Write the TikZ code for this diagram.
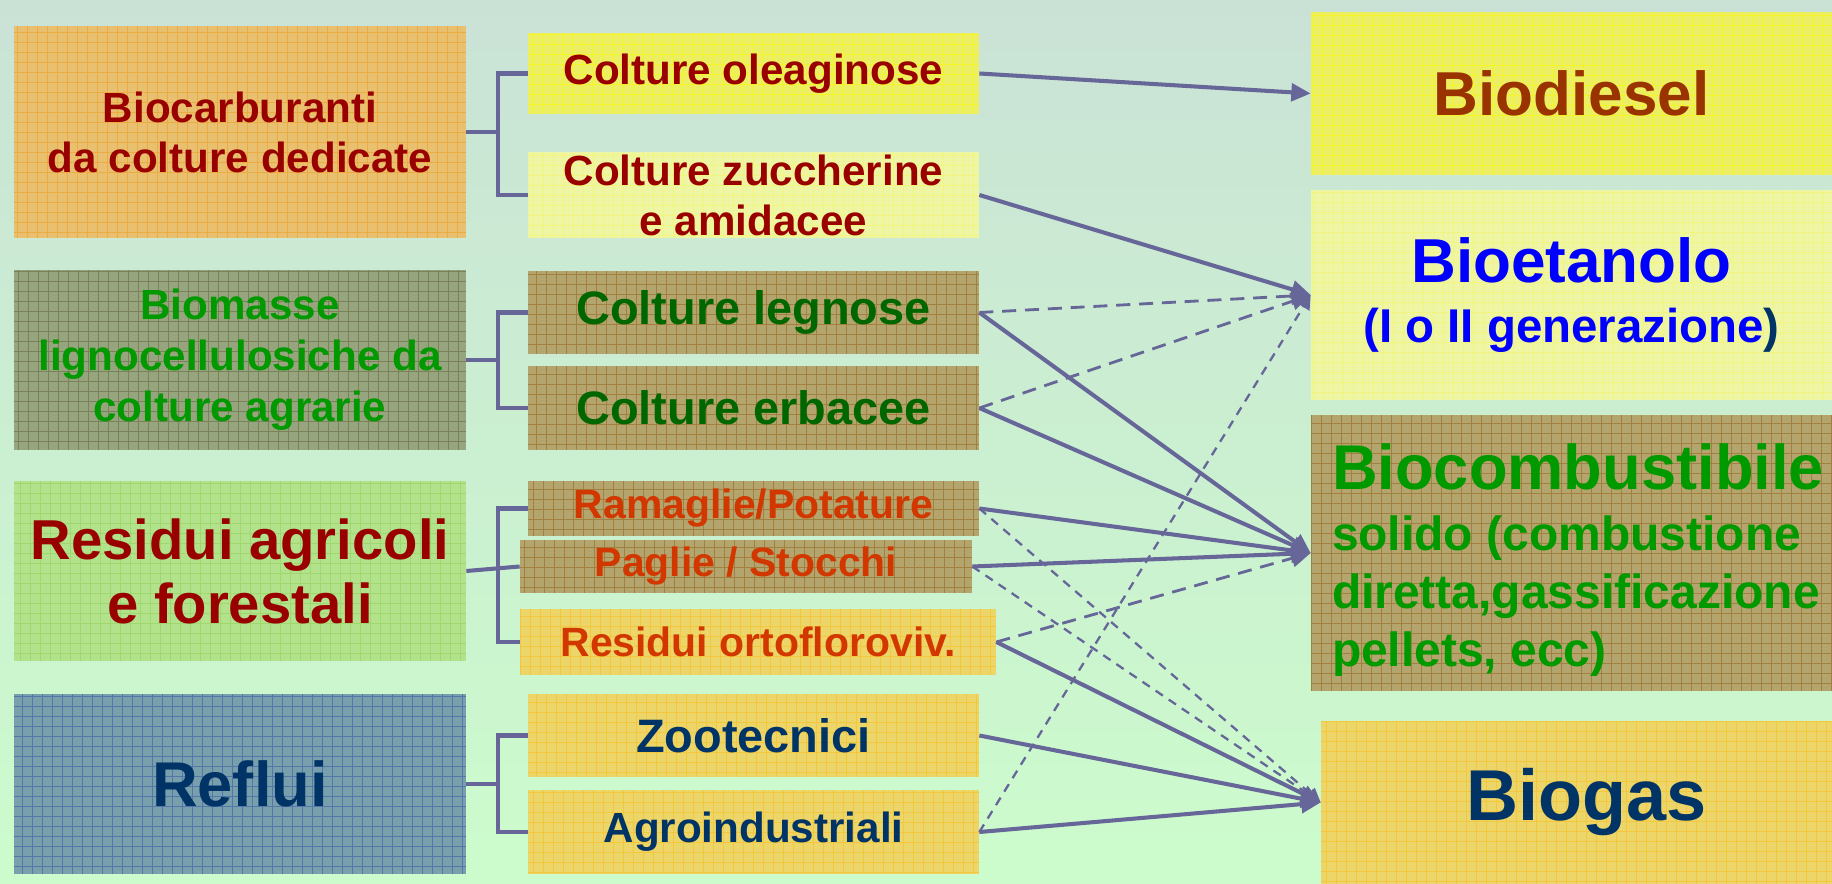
\documentclass[tikz,border=0pt]{standalone}
\usepackage{fontspec}
\setmainfont{Liberation Sans}
\usetikzlibrary{arrows.meta}

% background and connectors
\definecolor{bgtop}{RGB}{202,226,214}
\definecolor{bgbot}{RGB}{204,252,204}
\definecolor{linkcol}{RGB}{102,102,153}
% text colours
\definecolor{darkred}{RGB}{153,0,0}
\definecolor{leafgreen}{RGB}{0,153,0}
\definecolor{woodgreen}{RGB}{0,102,0}
\definecolor{rust}{RGB}{210,55,0}
\definecolor{navy}{RGB}{0,51,102}
\definecolor{brownred}{RGB}{153,51,0}
\definecolor{pureblue}{RGB}{0,0,255}
% box fills and grid lines
\definecolor{orangebox}{RGB}{232,192,112}
\definecolor{orangegrid}{RGB}{240,160,40}
\definecolor{greybox}{RGB}{150,165,125}
\definecolor{greygrid}{RGB}{105,105,65}
\definecolor{limebox}{RGB}{178,226,140}
\definecolor{limegrid}{RGB}{150,210,90}
\definecolor{bluebox}{RGB}{120,160,172}
\definecolor{bluegrid}{RGB}{60,90,170}
\definecolor{yellowbox}{RGB}{236,238,100}
\definecolor{yellowgrid}{RGB}{250,250,0}
\definecolor{paleyellow}{RGB}{238,245,165}
\definecolor{palegrid}{RGB}{245,245,100}
\definecolor{khaki}{RGB}{180,165,110}
\definecolor{khakigrid}{RGB}{150,105,30}
\definecolor{gold}{RGB}{236,214,105}
\definecolor{goldgrid}{RGB}{250,190,30}

\tikzset{
  gridbox/.style n args={3}{fill=#1, inner sep=0pt, align=center, text=#3,
    path picture={\draw[#2, line width=0.5pt, opacity=0.6]
      (path picture bounding box.south west) grid[step=0.2cm]
      (path picture bounding box.north east);}},
  dims/.style 2 args={minimum width=#1*0.02cm, minimum height=#2*0.02cm},
  fnt/.style 2 args={font=\bfseries\fontsize{#1}{#2}\selectfont},
  bracket/.style={draw=linkcol, line width=2.3pt},
  flow/.style={draw=linkcol, line width=2.3pt, -{Triangle[length=11pt,width=10pt]}},
  dflow/.style={flow, line width=1.6pt, dash pattern=on 8pt off 5pt},
  tflow/.style={flow, line width=1.3pt, dash pattern=on 5pt off 4pt,
    -{Triangle[length=8pt,width=8pt]}},
}

\begin{document}
\begin{tikzpicture}[x=0.02cm, y=-0.02cm]
  \useasboundingbox (0,0) rectangle (1832,884);
  \clip (0,0) rectangle (1832,884);
  \shade[top color=bgtop, bottom color=bgbot] (0,0) rectangle (1832,884);

  % sources
  \node[gridbox={orangebox}{orangegrid}{darkred}, dims={452}{212}, fnt={24pt}{28.5pt}]
    (biocarb) at (240,132) {Biocarburanti\\da colture dedicate};
  \node[gridbox={greybox}{greygrid}{leafgreen}, dims={452}{180}, fnt={24pt}{29pt}]
    (biomass) at (240,360) {Biomasse\\lignocellulosiche da\\colture agrarie};
  \node[gridbox={limebox}{limegrid}{darkred}, dims={452}{180}, fnt={32pt}{36.5pt}]
    (residui) at (240,571) {Residui agricoli\\e forestali};
  \node[gridbox={bluebox}{bluegrid}{navy}, dims={452}{180}, fnt={36pt}{40pt}]
    (reflui) at (240,784) {Reflui};

  % feedstocks
  \node[gridbox={yellowbox}{yellowgrid}{darkred}, dims={451}{81}, fnt={24pt}{28.5pt}]
    (oleag) at (753.5,73.5) {Colture oleaginose};
  \node[gridbox={paleyellow}{palegrid}{darkred}, dims={451}{86}, fnt={24pt}{28.5pt}]
    (zucch) at (753.5,195) {Colture zuccherine\\e amidacee};
  \node[gridbox={khaki}{khakigrid}{woodgreen}, dims={451}{83}, fnt={26.7pt}{30pt}]
    (legno) at (753.5,312.5) {Colture legnose};
  \node[gridbox={khaki}{khakigrid}{woodgreen}, dims={451}{84}, fnt={26.7pt}{30pt}]
    (erba) at (753.5,408) {Colture erbacee};
  \node[gridbox={khaki}{khakigrid}{rust}, dims={451}{55}, fnt={23.3pt}{27pt}]
    (ramag) at (753.5,508.5) {Ramaglie/Potature};
  \node[gridbox={khaki}{khakigrid}{rust}, dims={452}{53}, fnt={23.3pt}{27pt}]
    (paglie) at (746,566.5) {Paglie / Stocchi};
  \node[gridbox={gold}{goldgrid}{rust}, dims={476}{66}, fnt={23.3pt}{27pt}]
    (orto) at (758,642) {Residui ortofloroviv.};
  \node[gridbox={gold}{goldgrid}{navy}, dims={451}{83}, fnt={26.7pt}{30pt}]
    (zoo) at (753.5,735.5) {Zootecnici};
  \node[gridbox={gold}{goldgrid}{navy}, dims={451}{84}, fnt={24pt}{28pt}]
    (agro) at (753.5,832) {Agroindustriali};

  % products
  \node[gridbox={yellowbox}{yellowgrid}{brownred}, dims={521}{163}, fnt={35.3pt}{40pt}]
    (biodiesel) at (1571.5,93.5) {Biodiesel};
  \node[gridbox={paleyellow}{palegrid}{pureblue}, dims={521}{210}, fnt={27pt}{34pt}]
    (bioet) at (1571.5,295) {{\fontsize{35.3pt}{34pt}\selectfont Bioetanolo}\\
      (I o II generazione\textcolor{navy}{)}};
  \node[gridbox={khaki}{khakigrid}{leafgreen}, dims={521}{276}]
    (biocomb) at (1571.5,553) {};
  \node[fnt={27.3pt}{33pt}, text=leafgreen, align=left, anchor=west, inner sep=0pt]
    (biocombtxt) at ([xshift=21*0.02cm, yshift=-0.14cm]biocomb.west)
    {{\fontsize{36pt}{33pt}\selectfont Biocombustibile}\\[2pt]
      solido (combustione\\diretta,gassificazione\\pellets, ecc)};
  \node[gridbox={gold}{goldgrid}{navy}, dims={531}{163}, fnt={41pt}{46pt}]
    (biogas) at (1586.5,802.5) {Biogas};

  % brackets
  \coordinate (forkA) at ([xshift=-0.6cm]oleag.west);
  \draw[bracket] (oleag.west) -- (forkA) |- (zucch.west);
  \draw[bracket] (biocarb.east) -- (biocarb.east -| forkA);
  \coordinate (forkB) at ([xshift=-0.6cm]legno.west);
  \draw[bracket] (legno.west) -- (forkB) |- (erba.west);
  \draw[bracket] (biomass.east) -- (biomass.east -| forkB);
  \coordinate (forkC) at ([xshift=-0.6cm]ramag.west);
  \draw[bracket] (ramag.west) -- (forkC) |- (orto.west);
  \draw[bracket] (residui.east) -- (paglie.west);
  \coordinate (forkD) at ([xshift=-0.6cm]zoo.west);
  \draw[bracket] (zoo.west) -- (forkD) |- (agro.west);
  \draw[bracket] (reflui.east) -- (reflui.east -| forkD);

  % arrows
  \foreach \a/\b in {oleag/biodiesel, zucch/bioet, legno/biocomb, erba/biocomb,
      ramag/biocomb, paglie/biocomb, orto/biogas, zoo/biogas, agro/biogas}
    \draw[flow] (\a.east) -- (\b.west);
  \foreach \a/\b in {legno/bioet, erba/bioet, orto/biocomb}
    \draw[dflow] (\a.east) -- (\b.west);
  \foreach \a/\b in {ramag/biogas, paglie/biogas, agro/bioet}
    \draw[tflow] (\a.east) -- (\b.west);
\end{tikzpicture}
\end{document}
